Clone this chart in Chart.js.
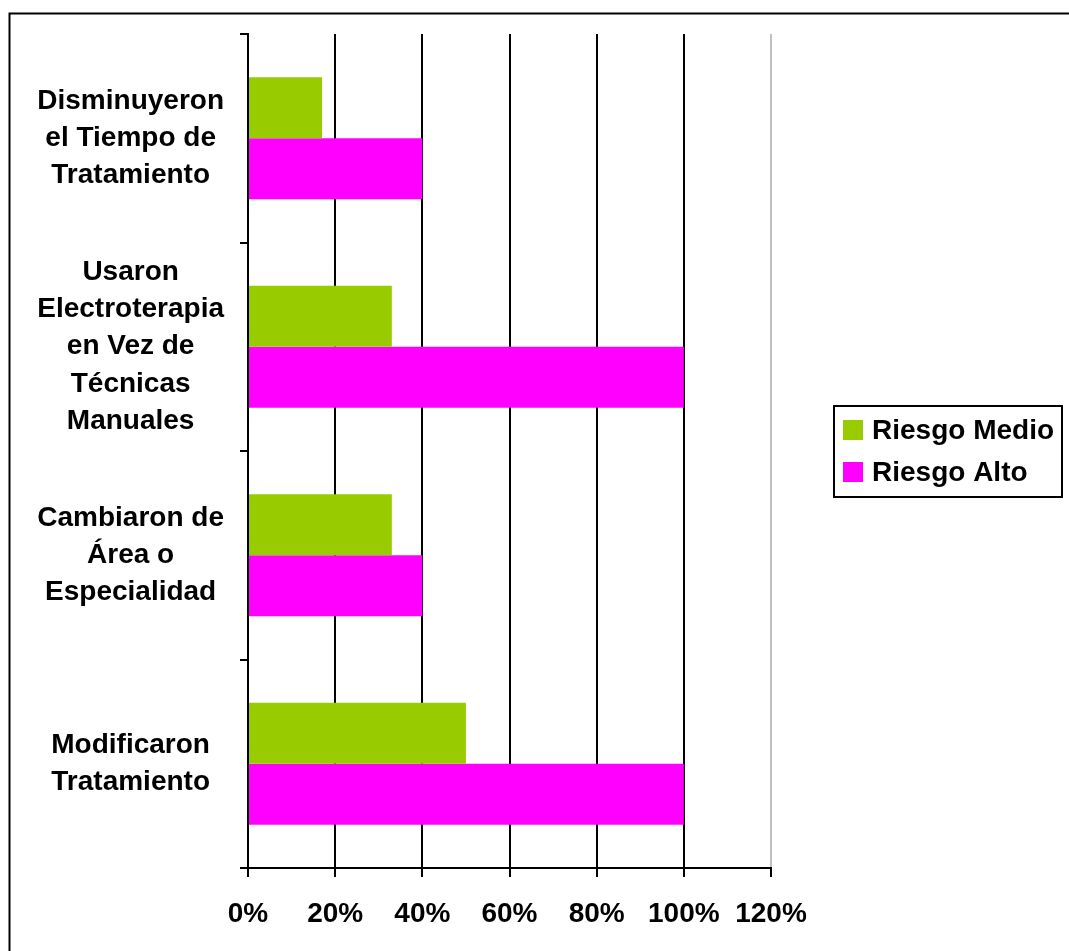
<!DOCTYPE html>
<html>
<head>
<meta charset="utf-8">
<script src="https://cdn.jsdelivr.net/npm/chart.js@4/dist/chart.umd.min.js"></script>
<style>
  html, body { margin: 0; padding: 0; background: #fff; }
  #wrap { width: 1069px; height: 951px; }
</style>
</head>
<body>
<div id="wrap"><canvas id="c" width="1069" height="951"></canvas></div>
<script>
// Categories (top to bottom) and the two risk series, in percent
const categories = [
  ['Disminuyeron', 'el Tiempo de', 'Tratamiento'],
  ['Usaron', 'Electroterapia', 'en Vez de', 'Técnicas', 'Manuales'],
  ['Cambiaron de', 'Área o', 'Especialidad'],
  ['Modificaron', 'Tratamiento']
];
const seriesNames = ['Riesgo Medio', 'Riesgo Alto'];
const riesgoMedio = [17, 33, 33, 50];
const riesgoAlto = [40, 100, 40, 100];
const xTicks = [0, 20, 40, 60, 80, 100, 120];

const FONT = '"Liberation Sans", Arial, sans-serif';

// White page plus the outer frame around the whole chart
const framePlugin = {
  id: 'frame',
  beforeDraw(chart) {
    const ctx = chart.ctx;
    ctx.save();
    ctx.fillStyle = '#fff';
    ctx.fillRect(0, 0, chart.width, chart.height);
    ctx.strokeStyle = '#000';
    ctx.lineWidth = 2;
    ctx.strokeRect(9.5, 13.5, 1100, 1000);
    ctx.restore();
  }
};

// Boxed legend to the right of the plot
const boxLegend = {
  id: 'boxLegend',
  afterDraw(chart) {
    const ctx = chart.ctx;
    ctx.save();
    ctx.strokeStyle = '#000';
    ctx.lineWidth = 2;
    ctx.strokeRect(834, 406, 228, 91);
    ctx.font = 'bold 28px ' + FONT;
    ctx.textBaseline = 'middle';
    ctx.textAlign = 'left';
    chart.data.datasets.forEach((ds, i) => {
      const cy = 430 + i * 42;
      ctx.fillStyle = ds.backgroundColor;
      ctx.fillRect(843, cy - 10, 20, 20);
      ctx.fillStyle = '#000';
      ctx.fillText(ds.label, 872, cy + 1);
    });
    ctx.restore();
  }
};

new Chart(document.getElementById('c'), {
  type: 'bar',
  data: {
    labels: categories,
    datasets: [
      { label: seriesNames[0], data: riesgoMedio, backgroundColor: '#99CC00', borderWidth: 0 },
      { label: seriesNames[1], data: riesgoAlto, backgroundColor: '#FF00FF', borderWidth: 0 }
    ]
  },
  options: {
    indexAxis: 'y',
    responsive: false,
    animation: false,
    devicePixelRatio: 1,
    categoryPercentage: 0.585,
    barPercentage: 1.0,
    layout: { padding: { left: 0, top: 34, right: 298, bottom: 0 } },
    plugins: {
      legend: { display: false },
      tooltip: { enabled: false }
    },
    scales: {
      x: {
        min: 0,
        max: 120,
        afterBuildTicks(scale) { scale.ticks = xTicks.map(v => ({ value: v })); },
        afterFit(scale) { scale.height = 83; },
        border: { display: true, color: '#000', width: 2 },
        grid: {
          color: (ctx) => (ctx.tick && ctx.tick.value === 120) ? '#c0c0c0' : '#000',
          tickColor: '#000',
          lineWidth: 2,
          tickLength: 9,
          drawTicks: true
        },
        ticks: {
          callback: (v) => v + '%',
          color: '#000',
          font: { family: FONT, size: 28, weight: 'bold' },
          padding: 20,
          maxRotation: 0,
          autoSkip: false
        }
      },
      y: {
        afterFit(scale) {
          scale.width = 248;
          scale.paddingTop = 0;
          scale.paddingBottom = 0;
        },
        border: { display: true, color: '#000', width: 2 },
        grid: {
          drawOnChartArea: false,
          drawTicks: true,
          tickLength: 8,
          color: '#000',
          lineWidth: 2
        },
        ticks: {
          crossAlign: 'center',
          color: '#000',
          font: { family: FONT, size: 28, weight: 'bold', lineHeight: 1.33 },
          padding: 16,
          autoSkip: false
        }
      }
    }
  },
  plugins: [framePlugin, boxLegend]
});
</script>
</body>
</html>
